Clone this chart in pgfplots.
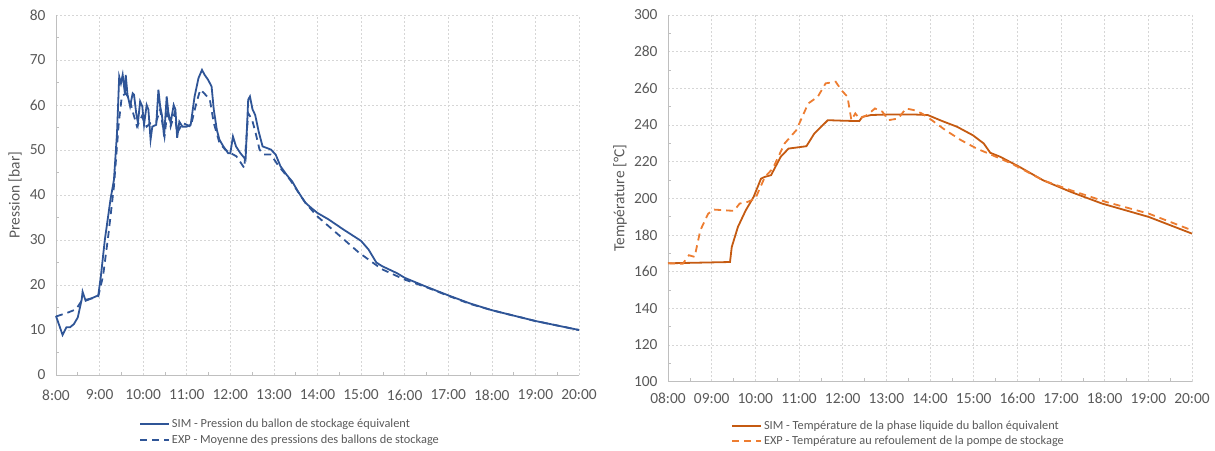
\documentclass[border=0pt]{standalone}
\usepackage{fontspec}
\setmainfont{Carlito}
\usepackage{pgfplots}
\pgfplotsset{compat=1.18}
\definecolor{cblue}{RGB}{47,85,151}
\definecolor{corange}{RGB}{197,90,17}
\definecolor{corangel}{RGB}{237,125,49}
\definecolor{ctxt}{RGB}{89,89,89}
\pgfplotsset{
  common/.style={
    scale only axis,
    axis lines*=left,
    axis line style={draw=black!25, line width=0.8bp},
    grid=major,
    major grid style={draw=black!16, dash pattern=on 2bp off 2bp, line width=0.6bp},
    xmin=8, xmax=20,
    xtick={8,...,20},
    minor x tick num=1,
    major tick length=0pt,
    minor tick length=3bp,
    tick style={draw=black!25, line width=0.6bp},
    tick align=inside,
    tick label style={text=ctxt, font=\fontsize{15.5}{17}\selectfont},
    yticklabel style={anchor=east, xshift=-7bp},
    /pgf/number format/assume math mode=true,
    label style={text=ctxt, font=\fontsize{15.5}{17}\selectfont},
    legend style={draw=none, fill=none, font=\fontsize{12.4}{14}\selectfont, text=ctxt, row sep=1.5bp, inner sep=0pt},
    legend cell align=left,
    legend image code/.code={\draw[#1] (0bp,0bp) -- (29bp,0bp);},
    clip=false,
  }
}
\begin{document}
\begin{tikzpicture}
\path[use as bounding box] (0,0) rectangle (1215bp,451bp);
\begin{axis}[common,
  at={(56bp,76bp)}, anchor=south west,
  width=523bp, height=360bp,
  ymin=0, ymax=80, ytick={0,10,...,80}, minor y tick num=1,
  xticklabels={8:00,9:00,10:00,11:00,12:00,13:00,14:00,15:00,16:00,17:00,18:00,19:00,20:00},
  xticklabel style={anchor=center, yshift=-20bp},
  ylabel={Pression [bar]},
  ylabel style={at={(axis description cs:0,0.5)}, anchor=center, rotate=0, yshift=41bp},
  legend style={at={(83bp,-42bp)}, anchor=north west},
]
\addplot[cblue, line width=1.8bp] coordinates {
(8.0,13.1)(8.105,10.2)(8.15,8.9)(8.24,10.6)(8.32,10.6)(8.41,11.3)(8.5,12.8)(8.59,16.8)(8.61,18.5)
(8.68,16.5)(8.76,16.8)(8.9,17.4)(8.97,17.7)(9.03,22)(9.12,30)(9.25,39)(9.33,43.4)(9.4,53.8)
(9.45,66.3)(9.49,64.8)(9.53,66.7)(9.58,62.6)(9.6,66.7)(9.64,62.3)(9.70,59.7)(9.76,62.6)(9.79,62.3)
(9.84,58.2)(9.88,56)(9.93,60.8)(9.98,59.7)(10.02,55.6)(10.08,60)(10.12,59)(10.17,52.3)(10.21,55.2)
(10.3,55.6)(10.35,63.4)(10.39,59.7)(10.43,57.8)(10.48,53)(10.54,61.9)(10.58,58.2)(10.63,56)
(10.7,60)(10.74,59)(10.78,52.7)(10.83,56.3)(10.9,55.2)(11.0,55.2)(11.09,55.6)(11.18,61.9)
(11.27,66)(11.35,67.8)(11.41,66.7)(11.49,65.6)(11.57,64.1)(11.62,59)(11.69,54.5)(11.75,52.3)
(11.84,50.8)(11.95,49.3)(12.0,49.3)(12.06,53)(12.13,50.8)(12.23,49.3)(12.35,47.9)(12.41,61.2)
(12.45,61.9)(12.51,59)(12.57,57.8)(12.65,54.1)(12.74,50.8)(12.85,50.4)(12.93,50.1)(13.04,49)
(13.15,46.4)(13.29,44.5)(13.42,43)(13.55,40.8)(13.72,38.3)(13.86,37.1)(14.0,36)(14.25,34.6)
(14.6,32.3)(15.0,29.8)(15.17,27.9)(15.35,25)(15.48,24.2)(15.83,22.6)(16.0,21.6)(16.5,19.6)
(17.0,17.7)(17.5,15.9)(18.0,14.4)(18.5,13.2)(19.0,12.0)(19.5,11.0)(20.0,10.0)
};
\addlegendentry{SIM - Pression du ballon de stockage équivalent}
\addplot[cblue, line width=1.8bp, dash pattern=on 7bp off 5bp] coordinates {
(8.0,13)(8.28,13.9)(8.46,14.6)(8.59,16.5)(8.72,16.8)(8.9,17.2)(8.97,17.5)(9.08,22)(9.2,31)
(9.33,42)(9.44,56)(9.51,61.9)(9.6,62.6)(9.69,61.2)(9.77,58.2)(9.86,55.2)(9.97,57.5)(10.08,55.2)
(10.17,56)(10.3,56.3)(10.39,59)(10.49,53)(10.56,59)(10.63,55.2)(10.72,58.2)(10.78,53.8)
(10.91,56)(11.09,55.2)(11.22,60.4)(11.31,63.4)(11.4,62.6)(11.53,61.2)(11.62,56)(11.75,51.6)
(11.88,50.1)(12.01,49.3)(12.14,48.6)(12.32,46)(12.41,58.2)(12.5,56.7)(12.58,53.8)(12.67,50.1)
(12.76,49)(12.93,49)(13.11,46.4)(13.37,43.4)(13.72,38.3)(13.99,35.3)(14.43,31.6)(14.95,27.2)
(15.48,23.5)(16.0,21.2)(16.5,19.5)(17.0,17.6)(17.5,15.8)(18.0,14.4)(18.5,13.2)(19.0,12.0)
(19.5,11.0)(20.0,10.0)
};
\addlegendentry{EXP - Moyenne des pressions des ballons de stockage}
\end{axis}
\begin{axis}[common,
  at={(668bp,69.5bp)}, anchor=south west,
  width=524bp, height=366.5bp,
  ymin=100, ymax=300, ytick={100,120,...,300}, minor y tick num=1,
  xticklabels={08:00,09:00,10:00,11:00,12:00,13:00,14:00,15:00,16:00,17:00,18:00,19:00,20:00},
  xticklabel style={anchor=center, yshift=-17bp},
  ylabel={Température [°C]},
  ylabel style={at={(axis description cs:0,0.5)}, anchor=center, rotate=0, yshift=48bp},
  legend style={at={(63bp,-37bp)}, anchor=north west},
]
\addplot[corange, line width=1.8bp] coordinates {
(8.0,164.5)(9.42,165.2)(9.46,173.4)(9.6,184.3)(9.78,193.4)(9.96,200.7)(10.13,210.7)(10.22,211.7)
(10.36,212.6)(10.58,222.6)(10.76,227.1)(11.17,228.4)(11.35,235.3)(11.66,242.6)(12.02,242.3)
(12.38,242.1)(12.45,244.4)(12.65,245.4)(13.0,245.7)(13.63,245.7)(13.95,245.4)(14.26,242.3)
(14.62,239)(14.98,234.4)(15.23,229.9)(15.38,224.8)(15.61,222.6)(16.05,217.1)(16.59,209.8)
(17.22,203.5)(17.94,197.1)(19.01,189.8)(20.0,180.7)
};
\addlegendentry{SIM - Température de la phase liquide du ballon équivalent}
\addplot[corangel, line width=1.8bp, dash pattern=on 7bp off 5bp] coordinates {
(8.0,164.5)(8.34,164.3)(8.48,168.9)(8.61,168)(8.74,182.5)(8.92,191.6)(9.06,193.8)(9.51,193.1)
(9.64,197.1)(9.82,198)(10.0,199.8)(10.22,211.7)(10.4,216.2)(10.67,229.9)(10.94,237.2)
(11.21,251.7)(11.43,255.4)(11.61,262.7)(11.84,263.6)(11.97,259)(12.11,255.4)(12.2,242.6)
(12.29,246.3)(12.38,243.5)(12.56,245.4)(12.74,249)(12.91,247.2)(13.05,242.6)(13.27,243.5)
(13.45,249)(13.63,248.1)(13.81,246.3)(13.99,243.5)(14.35,237.2)(14.71,231.7)(15.07,227.1)
(15.34,224.4)(15.87,218.9)(16.59,209.8)(17.22,204.4)(18.03,198)(19.01,191.6)(20.0,182.5)
};
\addlegendentry{EXP - Température au refoulement de la pompe de stockage}
\end{axis}
\end{tikzpicture}
\end{document}
